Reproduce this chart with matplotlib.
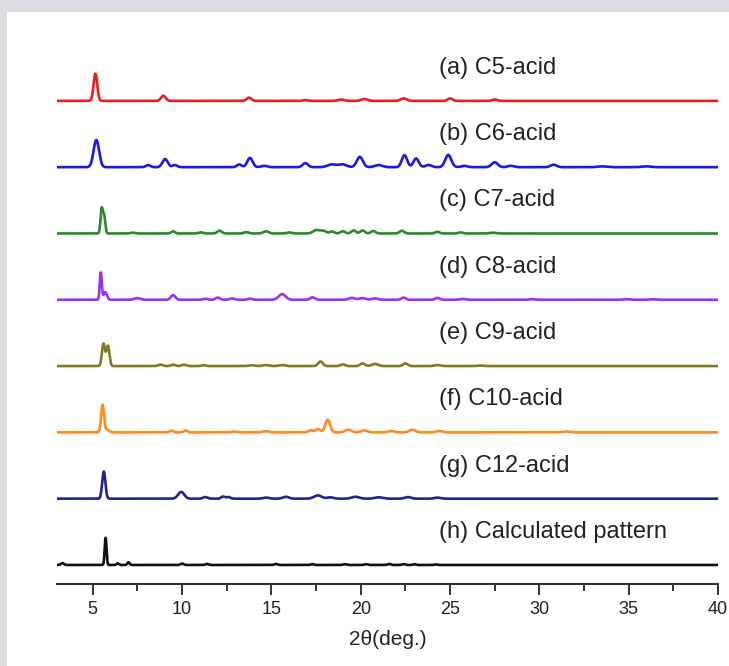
import numpy as np
import matplotlib
matplotlib.use("Agg")
import matplotlib.pyplot as plt
from matplotlib.patches import Rectangle
from matplotlib.ticker import MultipleLocator

plt.rcParams["font.family"] = ["Liberation Sans", "DejaVu Sans"]

# Peak tables (2-theta position, relative intensity, FWHM in degrees)
c5_pos = [5.15, 8.95, 13.75, 16.9, 18.9, 20.2, 22.4, 25.0, 27.5]
c5_int = [1.00, 0.19, 0.12, 0.03, 0.05, 0.07, 0.09, 0.09, 0.05]
c5_fwhm = [0.24, 0.30, 0.30, 0.3, 0.4, 0.4, 0.4, 0.3, 0.3]

c6_pos = [5.2, 8.1, 9.05, 9.6, 13.2, 13.8, 14.6, 16.9, 18.4, 19.0, 19.95, 21.0, 22.45, 23.1, 23.8, 24.9, 25.8, 27.5, 28.4, 30.8, 33.5, 36.0]
c6_int = [1.00, 0.08, 0.30, 0.08, 0.10, 0.34, 0.05, 0.15, 0.10, 0.10, 0.38, 0.08, 0.44, 0.32, 0.08, 0.45, 0.05, 0.18, 0.05, 0.09, 0.03, 0.03]
c6_fwhm = [0.36, 0.3, 0.35, 0.3, 0.3, 0.35, 0.4, 0.35, 0.6, 0.5, 0.4, 0.5, 0.35, 0.35, 0.4, 0.4, 0.4, 0.4, 0.4, 0.4, 0.6, 0.6]

c7_pos = [5.5, 5.64, 7.25, 9.5, 11.05, 12.1, 13.6, 14.7, 16.0, 17.5, 17.9, 18.4, 19.0, 19.6, 20.1, 20.7, 22.3, 24.3, 25.6, 27.4]
c7_int = [0.90, 0.62, 0.03, 0.08, 0.04, 0.10, 0.05, 0.08, 0.04, 0.12, 0.10, 0.07, 0.08, 0.11, 0.11, 0.09, 0.10, 0.06, 0.04, 0.03]
c7_fwhm = [0.15, 0.15, 0.3, 0.25, 0.3, 0.3, 0.3, 0.35, 0.3, 0.4, 0.4, 0.3, 0.3, 0.3, 0.3, 0.3, 0.3, 0.3, 0.3, 0.4]

c8_pos = [5.45, 5.7, 7.5, 9.5, 11.3, 12.0, 12.8, 13.8, 15.6, 17.3, 19.5, 20.1, 20.8, 22.4, 24.3, 25.7, 29.6, 34.9, 36.3]
c8_int = [1.00, 0.28, 0.06, 0.17, 0.04, 0.08, 0.05, 0.04, 0.21, 0.09, 0.07, 0.06, 0.05, 0.08, 0.07, 0.03, 0.02, 0.02, 0.02]
c8_fwhm = [0.13, 0.22, 0.4, 0.3, 0.3, 0.3, 0.3, 0.3, 0.45, 0.3, 0.4, 0.4, 0.4, 0.3, 0.3, 0.4, 0.4, 0.4, 0.4]

c9_pos = [5.6, 5.85, 8.8, 9.5, 10.1, 11.2, 13.9, 14.7, 15.6, 17.75, 19.0, 20.1, 20.8, 22.5, 24.3, 26.7]
c9_int = [0.82, 0.74, 0.05, 0.05, 0.05, 0.03, 0.03, 0.04, 0.04, 0.17, 0.06, 0.10, 0.08, 0.10, 0.04, 0.02]
c9_fwhm = [0.2, 0.2, 0.3, 0.3, 0.3, 0.3, 0.4, 0.4, 0.4, 0.3, 0.3, 0.3, 0.4, 0.3, 0.4, 0.4]

c10_pos = [5.55, 5.8, 9.4, 10.2, 12.9, 14.7, 17.2, 17.6, 18.15, 19.3, 20.2, 21.7, 22.9, 24.4, 31.5]
c10_int = [1.00, 0.10, 0.06, 0.07, 0.03, 0.04, 0.08, 0.12, 0.46, 0.10, 0.07, 0.05, 0.10, 0.05, 0.03]
c10_fwhm = [0.19, 0.3, 0.25, 0.25, 0.4, 0.4, 0.3, 0.3, 0.32, 0.4, 0.4, 0.4, 0.4, 0.4, 0.5]

c12_pos = [5.62, 9.95, 11.3, 12.3, 12.6, 14.7, 15.8, 17.6, 18.3, 19.7, 21.0, 22.65, 24.3]
c12_int = [1.00, 0.25, 0.06, 0.08, 0.06, 0.04, 0.07, 0.12, 0.05, 0.07, 0.05, 0.06, 0.04]
c12_fwhm = [0.21, 0.4, 0.3, 0.25, 0.25, 0.4, 0.4, 0.5, 0.4, 0.5, 0.5, 0.4, 0.4]

calc_pos = [3.3, 5.72, 6.4, 7.0, 10.0, 11.4, 15.25, 17.3, 19.1, 20.3, 21.6, 22.4, 23.0, 24.2]
calc_int = [0.07, 1.00, 0.06, 0.10, 0.05, 0.04, 0.04, 0.03, 0.03, 0.03, 0.04, 0.03, 0.03, 0.02]
calc_fwhm = [0.2, 0.12, 0.15, 0.15, 0.2, 0.2, 0.2, 0.2, 0.2, 0.2, 0.2, 0.2, 0.2, 0.2]

labels = ["(a) C5-acid", "(b) C6-acid", "(c) C7-acid", "(d) C8-acid",
          "(e) C9-acid", "(f) C10-acid", "(g) C12-acid", "(h) Calculated pattern"]
colors = ["#f01c1c", "#1a1ae6", "#2a8a2a", "#9b30f0",
          "#7d7d1c", "#ff8a1e", "#23238f", "#111111"]
patterns = [
    (c5_pos, c5_int, c5_fwhm),
    (c6_pos, c6_int, c6_fwhm),
    (c7_pos, c7_int, c7_fwhm),
    (c8_pos, c8_int, c8_fwhm),
    (c9_pos, c9_int, c9_fwhm),
    (c10_pos, c10_int, c10_fwhm),
    (c12_pos, c12_int, c12_fwhm),
    (calc_pos, calc_int, calc_fwhm),
]

two_theta = np.linspace(3.0, 40.0, 4000)
peak_scale = 0.41  # height of the strongest reflection, in stacking units


def profile(pos, inten, fwhm):
    y = np.zeros_like(two_theta)
    for p, a, w in zip(pos, inten, fwhm):
        s = w / 2.3548
        y += a * np.exp(-0.5 * ((two_theta - p) / s) ** 2)
    return y


fig = plt.figure(figsize=(7.29, 6.66), dpi=100)
fig.patch.set_facecolor("#dcdde0")
panel = Rectangle((7 / 729, 0), 1, 1 - 12 / 666, transform=fig.transFigure,
                  facecolor="white", edgecolor="none", zorder=-10)
fig.add_artist(panel)

ax = fig.add_axes([57 / 729, (666 - 584) / 666, (718 - 57) / 729, (584 - 30) / 666])
ax.set_facecolor("none")
ax.set_zorder(1)

n = len(patterns)
for i, ((pos, inten, fwhm), col, lab) in enumerate(zip(patterns, colors, labels)):
    offset = n - 1 - i
    ax.plot(two_theta, offset + peak_scale * profile(pos, inten, fwhm),
            color=col, lw=1.9, solid_joinstyle="round")
    ax.text(24.4, offset + 0.5, lab, fontsize=17, color="#222222",
            ha="left", va="center")

ax.set_xlim(3.0, 40.0)
ax.set_ylim(-0.287, 8.069)
for side in ("left", "right", "top"):
    ax.spines[side].set_visible(False)
ax.spines["bottom"].set_linewidth(1.5)
ax.spines["bottom"].set_color("#333333")
ax.set_yticks([])
ax.xaxis.set_major_locator(MultipleLocator(5))
ax.xaxis.set_minor_locator(MultipleLocator(2.5))
ax.tick_params(axis="x", which="major", direction="out", length=8, width=1.4,
               color="#333333", labelsize=13, labelcolor="#222222", pad=4)
ax.tick_params(axis="x", which="minor", direction="out", length=5, width=1.4,
               color="#333333")
ax.set_xlabel("2θ(deg.)", fontsize=15, color="#222222", labelpad=9)

fig.savefig("out.png", dpi=100, facecolor=fig.get_facecolor())
